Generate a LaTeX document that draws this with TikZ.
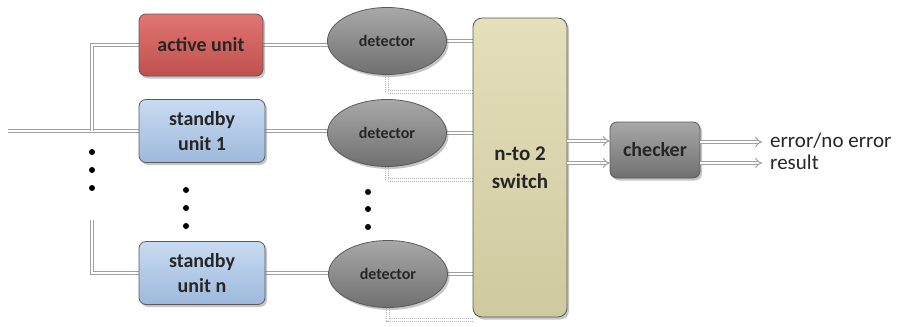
\documentclass[tikz,border=0pt]{standalone}
\usepackage{fontspec}
\setmainfont{Carlito}
\usetikzlibrary{shapes.geometric,shadows,arrows.meta,backgrounds}

\definecolor{redtop}{HTML}{E07572}
\definecolor{redbot}{HTML}{C0504D}
\definecolor{bluetop}{HTML}{C9DBF1}
\definecolor{bluebot}{HTML}{9DB9DC}
\definecolor{graytop}{HTML}{A8A8A8}
\definecolor{graybot}{HTML}{707070}
\definecolor{khakitop}{HTML}{E4E0BC}
\definecolor{khakibot}{HTML}{CFC99F}
\definecolor{edge}{HTML}{5A5A5A}
\definecolor{wire}{HTML}{A0A0A0}

\tikzset{
  x=1pt, y=-1pt,
  boxbase/.style={draw=edge, line width=0.8pt, rounded corners=7pt,
    drop shadow={opacity=0.45, shadow xshift=2pt, shadow yshift=-2.5pt},
    align=center, font=\fontsize{20}{25}\selectfont\bfseries, text=black!85},
  unitred/.style={boxbase, minimum width=124pt, minimum height=62pt,
    top color=redtop, bottom color=redbot},
  unitblue/.style={boxbase, minimum width=126pt, minimum height=63pt,
    top color=bluetop, bottom color=bluebot},
  detect/.style={ellipse, draw=edge, line width=0.8pt, minimum width=119pt,
    minimum height=67pt, top color=graytop, bottom color=graybot,
    drop shadow={opacity=0.45, shadow xshift=2pt, shadow yshift=-2.5pt},
    font=\fontsize{16}{17}\selectfont\bfseries, text=black!85},
  switchbox/.style={boxbase, minimum width=94pt, minimum height=299pt,
    top color=khakitop, bottom color=khakibot, rounded corners=9pt,
    font=\fontsize{21}{28}\selectfont\bfseries},
  checkbox/.style={boxbase, minimum width=90pt, minimum height=56pt,
    top color=graytop, bottom color=graybot,
    font=\fontsize{20}{21}\selectfont\bfseries},
  wireline/.style={draw=wire, double=white, double distance=2.4pt, line width=1pt},
  dotwire/.style={draw=wire!80, double=white, double distance=2pt, line width=0.8pt,
    dash pattern=on 1pt off 1pt},
  tipwire/.style={wireline, -{Implies}},
  outwire/.style={wireline, -{Implies[length=7pt]}},
  dotmark/.style={circle, fill=black, inner sep=0pt, minimum size=6pt},
  outlabel/.style={anchor=west, font=\fontsize{21}{22}\selectfont, text=black!85, inner sep=0pt}
}

\begin{document}
\begin{tikzpicture}
\useasboundingbox (0,0) rectangle (898,327);

% processing units
\node[unitred]  (act) at (201,45)  {active unit};
\node[unitblue] (sb1) at (202,131) {standby\\unit 1};
\node[unitblue] (sbn) at (202,273) {standby\\unit n};

% detectors
\node[detect] (det1) at (387,41)  {detector};
\node[detect] (det2) at (387,133) {detector};
\node[detect] (detn) at (388,274) {detector};

% switch and checker
\node[switchbox] (sw)  at (520,167.5) {n-to 2\\switch};
\node[checkbox]  (chk) at (655,150)   {checker};

% free ends and junctions
\coordinate (in)  at (8,131);
\coordinate (j1)  at (92,131);
\coordinate (jn)  at (92,220);
\coordinate (d1b) at (473,92);
\coordinate (d2b) at (473,180);
\coordinate (dnb) at (473,320);
\coordinate (s1)  at (567,141);
\coordinate (s2)  at (567,163);
\coordinate (o1)  at (762,142);
\coordinate (o2)  at (762,163);

% ellipsis dots
\node[dotmark] (la) at (92,152) {};
\node[dotmark] (lb) at (92,170) {};
\node[dotmark] (lc) at (92,188) {};
\node[dotmark] (ua) at (186,190) {};
\node[dotmark] (ub) at (186,208) {};
\node[dotmark] (uc) at (186,226) {};
\node[dotmark] (da) at (368,192) {};
\node[dotmark] (db) at (368,209) {};
\node[dotmark] (dc) at (368,227) {};

\begin{scope}[on background layer]
  % input distribution
  \draw[wireline] (in) -- (sb1.west);
  \draw[wireline] (j1) |- (act.west);
  \draw[wireline] (jn) |- (sbn.west);
  % units to detectors
  \draw[wireline] (act.east) -- (act.east -| det1.center);
  \draw[wireline] (sb1.east) -- (sb1.east -| det2.center);
  \draw[wireline] (sbn.east) -- (sbn.east -| detn.center);
  % detectors to switch
  \draw[wireline] (det1.east) -- (det1.east -| sw.center);
  \draw[wireline] (det2.east) -- (det2.east -| sw.center);
  \draw[wireline] (detn.east) -- (detn.east -| sw.center);
  % detector status lines
  \draw[dotwire] (det1.south) |- (d1b);
  \draw[dotwire] (det2.south) |- (d2b);
  \draw[dotwire] (detn.south) |- (dnb);
\end{scope}

% switch to checker
\draw[tipwire] (s1) -- (s1 -| chk.west);
\draw[tipwire] (s2) -- (s2 -| chk.west);

% checker outputs
\draw[outwire] (chk.east |- o1) -- (o1);
\draw[outwire] (chk.east |- o2) -- (o2);
\node[outlabel] (l1) at (770,141) {error/no error};
\node[outlabel] (l2) at (770,162) {result};
\end{tikzpicture}
\end{document}
